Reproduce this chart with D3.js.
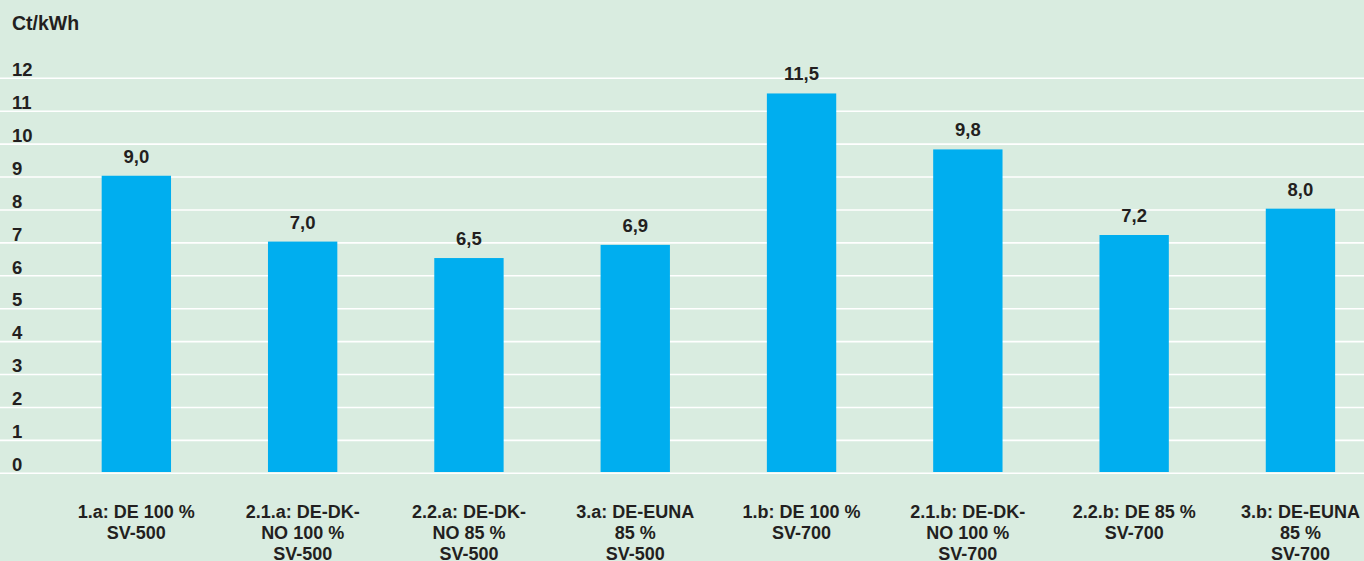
<!DOCTYPE html>
<html>
<head>
<meta charset="utf-8">
<script src="https://cdn.jsdelivr.net/npm/d3@7"></script>
<style>
html,body{margin:0;padding:0;background:#d9ece0;}
svg{display:block;}
text{font-family:"Liberation Sans",Arial,Helvetica,sans-serif;font-weight:bold;fill:#231f20;}
</style>
</head>
<body>
<svg id="chart" width="1364" height="561"></svg>
<script>
const categories = [
  ["1.a: DE 100 %", "SV-500"],
  ["2.1.a: DE-DK-", "NO 100 %", "SV-500"],
  ["2.2.a: DE-DK-", "NO 85 %", "SV-500"],
  ["3.a: DE-EUNA", "85 %", "SV-500"],
  ["1.b: DE 100 %", "SV-700"],
  ["2.1.b: DE-DK-", "NO 100 %", "SV-700"],
  ["2.2.b: DE 85 %", "SV-700"],
  ["3.b: DE-EUNA", "85 %", "SV-700"]
];
const values = [9.0, 7.0, 6.5, 6.9, 11.5, 9.8, 7.2, 8.0];
const yTicks = [0,1,2,3,4,5,6,7,8,9,10,11,12];
const unitLabel = "Ct/kWh";

const svg = d3.select("#chart");
const W = 1364, H = 561;
svg.append("rect").attr("width", W).attr("height", H).attr("fill", "#d9ece0");

const keys = categories.map((c, i) => "c" + i);
const x = d3.scaleBand().domain(keys).range([53.2, 1383.6]).paddingInner(0.583).paddingOuter(0.2915);
const y = d3.scaleLinear().domain([0, 12]).range([472, 77]);

// gridlines
const grid = svg.append("g").attr("transform", "translate(0,1.3)");
grid.selectAll("line").data(yTicks).join("line")
  .attr("x1", 0).attr("x2", W)
  .attr("y1", d => y(d)).attr("y2", d => y(d))
  .attr("stroke", "#ffffff").attr("stroke-width", 1.6);

// tick labels
svg.append("g").selectAll("text").data(yTicks).join("text")
  .attr("x", 12).attr("y", d => y(d) - 1)
  .attr("font-size", 18.5)
  .text(d => d);

// unit
svg.append("text").attr("x", 12).attr("y", 30).attr("font-size", 19.5).text(unitLabel);

// bars
svg.append("g").selectAll("rect").data(values).join("rect")
  .attr("x", (d, i) => x(keys[i]))
  .attr("width", x.bandwidth())
  .attr("y", d => y(d))
  .attr("height", d => y(0) - y(d))
  .attr("fill", "#00aeef");

// value labels
const fmt = v => d3.format(".1f")(v).replace(".", ",");
svg.append("g").selectAll("text").data(values).join("text")
  .attr("x", (d, i) => x(keys[i]) + x.bandwidth() / 2)
  .attr("y", d => y(d) - 13)
  .attr("text-anchor", "middle")
  .attr("font-size", 18.5)
  .text(d => fmt(d));

// category labels
const cg = svg.append("g");
categories.forEach((lines, i) => {
  const t = cg.append("text")
    .attr("x", x(keys[i]) + x.bandwidth() / 2)
    .attr("y", 518)
    .attr("text-anchor", "middle")
    .attr("font-size", 18);
  lines.forEach((l, j) => {
    t.append("tspan").attr("x", x(keys[i]) + x.bandwidth() / 2).attr("dy", j === 0 ? 0 : 21).text(l);
  });
});
</script>
</body>
</html>
